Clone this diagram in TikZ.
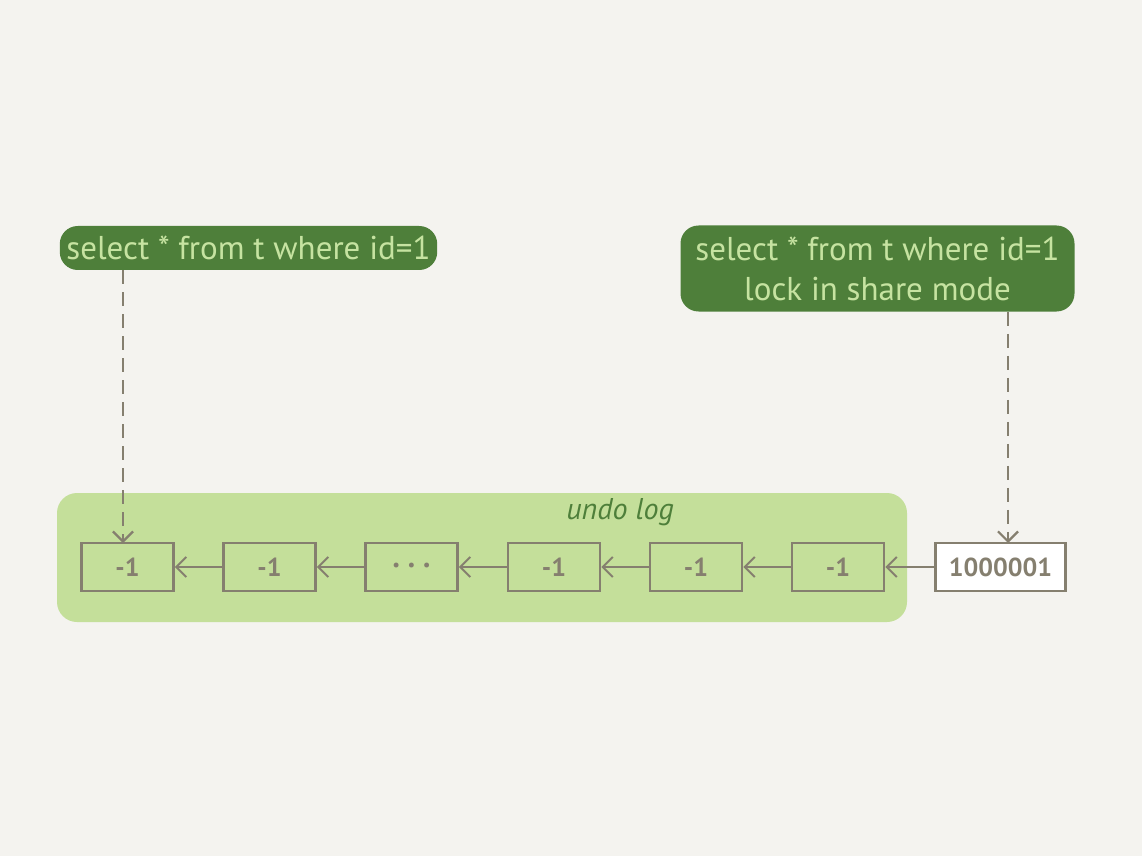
\documentclass[tikz,border=0pt]{standalone}
\usepackage{fontspec}
\setmainfont{PT Sans}
\usetikzlibrary{arrows.meta}
\definecolor{paper}{HTML}{F4F3EF}
\definecolor{bandgreen}{HTML}{C4DF9A}
\definecolor{darkgreen}{HTML}{4E7F3A}
\definecolor{palegreen}{HTML}{C6E3A1}
\definecolor{inkgrey}{HTML}{857F6F}
\tikzset{
  query/.style   = {shape=rectangle, rounded corners=9pt, fill=darkgreen,
                    text=palegreen, align=center, font=\fontsize{16.5}{20}\selectfont},
  rowver/.style  = {shape=rectangle, draw=inkgrey, line width=1.4pt,
                    minimum width=46pt, minimum height=24pt, inner sep=0pt,
                    text=inkgrey, font=\fontsize{13}{15}\selectfont\bfseries},
  link/.style    = {draw=inkgrey, line width=1pt, ->},
  readptr/.style = {draw=inkgrey, line width=1.1pt, ->, dash pattern=on 7pt off 4pt}
}

\begin{document}
\begin{tikzpicture}
 [x=0.5pt, y=-0.5pt, >={Straight Barb[length=5pt,width=10pt]}]

  % background and undo log band
  \fill [paper] (0,0) rectangle (1142,856);
  \fill [bandgreen, rounded corners=10pt] (57,493) rectangle (907,622);
  \node [text=darkgreen, font=\fontsize{15}{17}\selectfont\itshape] (undo) at (620,512) {undo log};

  % versions of the row
  \foreach \n/\x/\t in {1/127.5/-1, 2/269.5/-1,
                        3/411.5/{\fontsize{8}{8}\selectfont\textbullet\enspace\textbullet\enspace\textbullet},
                        4/554/-1, 5/696/-1, 6/838/-1}
    \node [rowver] (b\n) at (\x,567) {\t};
  \node [rowver, fill=white, minimum width=65pt] (b7) at (1000.5,567) {1000001};

  \foreach \a/\b in {2/1, 3/2, 4/3, 5/4, 6/5, 7/6}
    \draw [link] (b\a.west) -- (b\b.east);

  % the two reads
  \node [query, minimum width=188pt, minimum height=22pt] (q1) at (248.5,248) {select * from t where id=1};
  \node [query, minimum width=197pt, minimum height=43pt] (q2) at (877.5,268.5)
        {select * from t where id=1\\lock in share mode};

  \coordinate (p1) at (123,543);
  \coordinate (p2) at (1008,543);
  \draw [readptr] (p1 |- q1.south) -- (p1);
  \draw [readptr] (p2 |- q2.south) -- (p2);
\end{tikzpicture}
\end{document}
